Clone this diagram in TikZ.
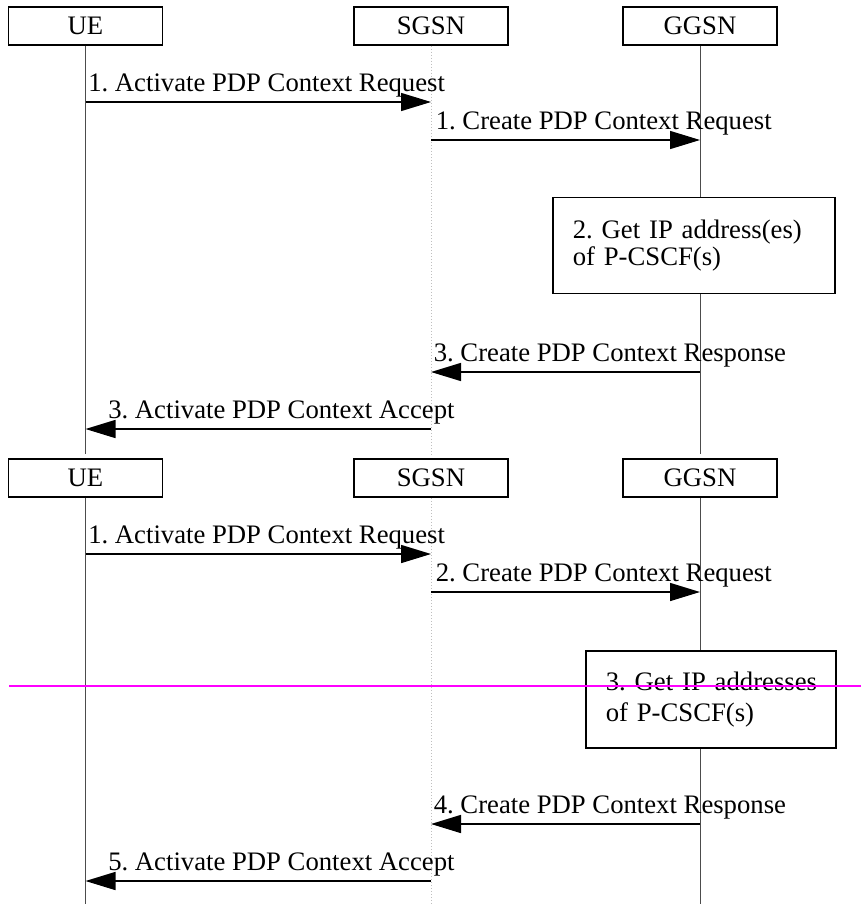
\documentclass[tikz,border=0pt]{standalone}
\usepackage{fontspec}
\setmainfont{Liberation Serif}
\usetikzlibrary{arrows.meta,positioning}
\definecolor{cutline}{RGB}{255,0,255}
\frenchspacing

\begin{document}
\begin{tikzpicture}[x=0.5pt,y=-0.5pt,>={Triangle[length=15pt,width=9pt]},node distance=172.75pt,
	font=\fontsize{13.35}{16}\selectfont,
	entity/.style={draw,line width=0.75pt,minimum width=77pt,minimum height=19pt,inner sep=0pt},
	life/.style={line width=0.5pt,black!70},
	sglife/.style={line width=0.5pt,black!25,densely dotted},
	msg/.style={anchor=base west,inner sep=0pt,yshift=5.5pt},
	action/.style={draw,fill=white,line width=0.75pt,align=left,anchor=north west,inner xsep=10pt,inner ysep=0pt}]

\useasboundingbox (0,0) rectangle (861,904);

\node[entity]   (ue)  at (85.5,26)      {UE};
 \node[entity]   (sgsn) [right of=ue]   {SGSN};
	\node[entity]   (ggsn) [right of=sgsn,node distance=134.5pt]   {GGSN};
	\node[entity]   (ue2) [below of=ue,node distance=226pt]      {UE};
	\node[entity]   (sgsn2) [below of=sgsn,node distance=226pt]  {SGSN};
	\node[entity]   (ggsn2) [below of=ggsn,node distance=226pt]  {GGSN};

	\coordinate (ueend)   at (ue2 |- 0,904);
	\coordinate (sgsnend) at (sgsn2 |- 0,904);
	\coordinate (ggsnend) at (ggsn2 |- 0,904);

	\draw[life,shorten >=2pt]   (ue) -- (ue2);
	\draw[sglife,shorten >=2pt] (sgsn) -- (sgsn2);
	\draw[life,shorten >=2pt]   (ggsn) -- (ggsn2);
	\draw[life]   (ue2) -- (ueend);
	\draw[sglife] (sgsn2) -- (sgsnend);
	\draw[life]   (ggsn2) -- (ggsnend);

	\coordinate (u1) at (ue |- 0,102);   \coordinate (s1) at (sgsn |- 0,102);
	\coordinate (s2) at (sgsn |- 0,140); \coordinate (g2) at (ggsn |- 0,140);
	\coordinate (g3) at (ggsn |- 0,372); \coordinate (s3) at (sgsn |- 0,372);
	\coordinate (s4) at (sgsn |- 0,429); \coordinate (u4) at (ue |- 0,429);
	\coordinate (u5) at (ue |- 0,554);   \coordinate (s5) at (sgsn |- 0,554);
	\coordinate (s6) at (sgsn |- 0,592); \coordinate (g6) at (ggsn |- 0,592);
	\coordinate (g7) at (ggsn |- 0,824); \coordinate (s7) at (sgsn |- 0,824);
	\coordinate (s8) at (sgsn |- 0,881); \coordinate (u8) at (ue |- 0,881);

	\path[->,line width=0.75pt] (u1) edge  node[msg,pos=0,xshift=1pt] (m1) {1. Activate PDP Context Request} (s1)
					(s2) edge  node[msg,pos=0,xshift=2pt] (m2) {1. Create PDP Context Request} (g2)
					(g3) edge  node[msg,pos=1,xshift=1pt] (m3) {3. Create PDP Context Response} (s3)
					(s4) edge  node[msg,pos=1,xshift=11pt] (m4) {3. Activate PDP Context Accept} (u4)
					(u5) edge  node[msg,pos=0,xshift=1pt] (m5) {1. Activate PDP Context Request} (s5)
					(s6) edge  node[msg,pos=0,xshift=2pt] (m6) {2. Create PDP Context Request} (g6)
					(g7) edge  node[msg,pos=1,xshift=1pt] (m7) {4. Create PDP Context Response} (s7)
					(s8) edge  node[msg,pos=1,xshift=11pt] (m8) {5. Activate PDP Context Accept} (u8);

	\node[action,text width=121pt,minimum height=48pt,font=\fontsize{13.35}{13.5}\selectfont]   (ip1) at (552,196.5)
		{\mbox{2. Get IP address(es)}\\of P-CSCF(s)};
	\node[action,text width=105pt,minimum height=48.5pt,font=\fontsize{13.35}{15.5}\selectfont] (ip2) at (585,650)
		{\mbox{3. Get IP addresses}\\of P-CSCF(s)};

	\coordinate (cutl) at (9,686);
	\coordinate (cutr) at (861,686);
	\draw[cutline,line width=1pt] (cutl) -- (cutr);

\end{tikzpicture}
\end{document}
